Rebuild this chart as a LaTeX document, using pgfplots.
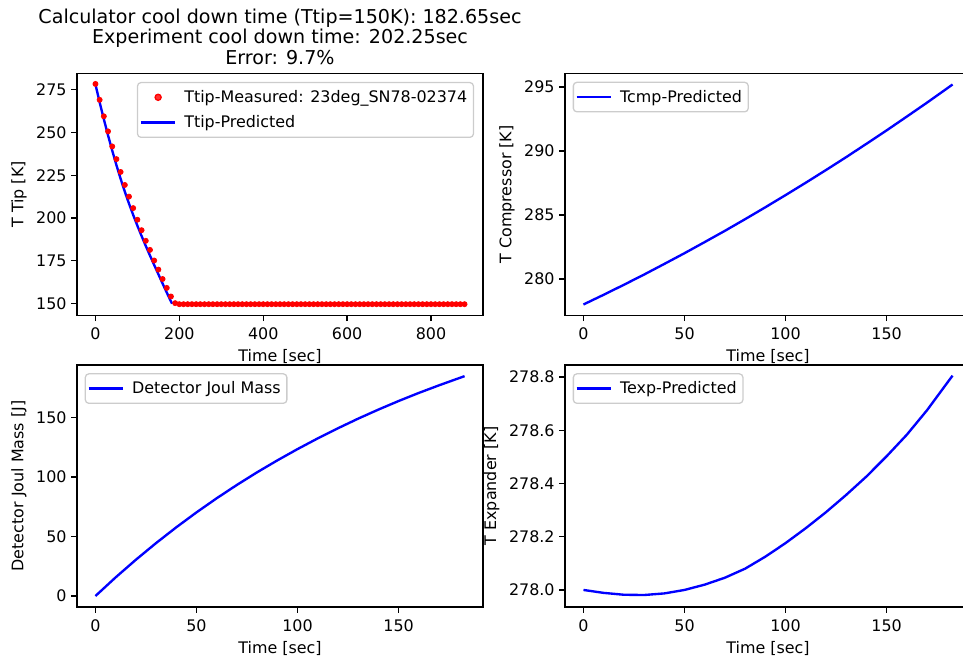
\documentclass[border=0pt]{standalone}
\usepackage{fontspec}
\setmainfont{DejaVu Sans}
\usepackage{pgfplots}
\pgfplotsset{compat=1.18}
\pgfplotsset{
  myaxis/.style={
    scale only axis, width=292.32bp, height=174.24bp,
    axis line style={line width=0.92bp},
    every tick/.style={black, line width=0.92bp},
    major tick length=4bp, tick align=outside, tick pos=left,
    tick label style={font=\fontsize{11.5}{13.8}\selectfont},
    label style={font=\fontsize{11.5}{13.8}\selectfont},
    xticklabel shift=1.5bp,
    /pgf/number format/assume math mode=true,
    /pgf/number format/1000 sep={},
    legend style={draw=black!20, line width=0.92bp, rounded corners=2.5bp, fill=white, fill opacity=0.8, text opacity=1,
      font=\fontsize{11.5}{13.8}\selectfont, inner xsep=1.5bp, inner ysep=1.5bp, nodes={inner xsep=3bp, inner ysep=4bp},
      /tikz/every odd column/.append style={column sep=2.5bp}},
    legend cell align=left,
    xlabel={Time [sec]},
  },
  lineleg/.style={legend image code/.code={\draw[##1] (0bp,0bp) -- (25bp,0bp);}},
  ulleg/.style={legend style={at={(0.019,0.966)}, anchor=north west}},
}
\begin{document}
\begin{tikzpicture}[x=1bp,y=1bp]
\path[use as bounding box] (0,0) rectangle (693.36,476.64);

% Top-left: T tip
\begin{axis}[myaxis, at={(55.44bp,249.48bp)}, anchor=south west,
  xmin=-44, xmax=924, ymin=143.1, ymax=284.4,
  xtick={0,200,400,600,800}, ytick={150,175,200,225,250,275},
  ylabel={T Tip [K]},
  title={Calculator cool down time (Ttip=150K): 182.65sec\\Experiment cool down time: 202.25sec\\Error: 9.7\%},
  title style={align=center, font=\fontsize{13.8}{14.6}\selectfont, at={(0.5,1)}, anchor=south, yshift=-1.6bp, inner sep=2bp},
  legend style={at={(0.978,0.965)}, anchor=north east}]
\addplot[only marks, mark=*, mark size=1.85bp, mark options={fill=red, draw=red, line width=0.5bp},
  legend image code/.code={\fill[red] (12.5bp,0bp) circle (2.2bp);}]
  coordinates {
  (0,278.3) (10,269.0) (20,259.4) (30,250.6) (40,241.8) (50,234.4) (60,226.9) (70,219.3) (80,212.5) (90,205.8)
  (100,199.0) (110,192.9) (120,186.7) (130,181.4) (140,175.2) (150,169.9) (160,164.4) (170,159.2) (180,154.2) (190,150.3)
  (200,149.7) (210,149.7) (220,149.7) (230,149.7) (240,149.7) (250,149.7) (260,149.7) (270,149.7) (280,149.7) (290,149.7)
  (300,149.7) (310,149.7) (320,149.7) (330,149.7) (340,149.7) (350,149.7) (360,149.7) (370,149.7) (380,149.7) (390,149.7)
  (400,149.7) (410,149.7) (420,149.7) (430,149.7) (440,149.7) (450,149.7) (460,149.7) (470,149.7) (480,149.7) (490,149.7)
  (500,149.7) (510,149.7) (520,149.7) (530,149.7) (540,149.7) (550,149.7) (560,149.7) (570,149.7) (580,149.7) (590,149.7)
  (600,149.7) (610,149.7) (620,149.7) (630,149.7) (640,149.7) (650,149.7) (660,149.7) (670,149.7) (680,149.7) (690,149.7)
  (700,149.7) (710,149.7) (720,149.7) (730,149.7) (740,149.7) (750,149.7) (760,149.7) (770,149.7) (780,149.7) (790,149.7)
  (800,149.7) (810,149.7) (820,149.7) (830,149.7) (840,149.7) (850,149.7) (860,149.7) (870,149.7) (880,149.7)
  };
\addlegendentry{Ttip-Measured: 23deg\_SN78-02374}
\addplot[blue, line width=1.7bp, lineleg]
  coordinates {
  (0,278.0) (10,267.6) (20,257.7) (30,248.3) (40,239.4) (50,230.9) (60,222.9) (70,215.4) (80,208.4) (90,201.8)
  (100,195.5) (110,189.5) (120,183.7) (130,178.1) (140,172.6) (150,167.2) (160,161.8) (170,156.5) (180,151.3) (182.65,150.0)
  };
\addlegendentry{Ttip-Predicted}
\end{axis}

% Top-right: T compressor
\begin{axis}[myaxis, ulleg, at={(406.8bp,249.48bp)}, anchor=south west,
  xmin=-9.13, xmax=191.78, ymin=277.14, ymax=296.06,
  xtick={0,50,100,150}, ytick={280,285,290,295},
  ylabel={T Compressor [K]}]
\addplot[blue, line width=1.7bp, lineleg]
  coordinates {
  (0,278.00) (10,278.76) (20,279.54) (30,280.34) (40,281.17) (50,282.01) (60,282.88) (70,283.76) (80,284.67) (90,285.60)
  (100,286.55) (110,287.52) (120,288.51) (130,289.52) (140,290.56) (150,291.61) (160,292.69) (170,293.78) (180,294.90) (182.65,295.20)
  };
\addlegendentry{Tcmp-Predicted}
\end{axis}

% Bottom-left: detector joul mass
\begin{axis}[myaxis, ulleg, at={(55.44bp,39.6bp)}, anchor=south west,
  xmin=-9.13, xmax=191.78, ymin=-9.25, ymax=194.2,
  xtick={0,50,100,150}, ytick={0,50,100,150},
  ylabel={Detector Joul Mass [J]}]
\addplot[blue, line width=1.7bp, lineleg]
  coordinates {
  (0,0) (10,15.66) (20,30.47) (30,44.49) (40,57.74) (50,70.30) (60,82.16) (70,93.38) (80,104.0) (90,114.0)
  (100,123.5) (110,132.5) (120,141.0) (130,149.1) (140,156.7) (150,163.9) (160,170.7) (170,177.1) (180,183.2) (182.65,184.8)
  };
\addlegendentry{Detector Joul Mass}
\end{axis}

% Bottom-right: T expander
\begin{axis}[myaxis, ulleg, at={(406.8bp,39.6bp)}, anchor=south west,
  xmin=-9.13, xmax=191.78, ymin=277.936, ymax=278.845,
  xtick={0,50,100,150}, ytick={278.0,278.2,278.4,278.6,278.8},
  yticklabel style={/pgf/number format/.cd, fixed, fixed zerofill, precision=1},
  ylabel={T Expander [K]}]
\addplot[blue, line width=1.7bp, lineleg]
  coordinates {
  (0,278.000) (10,277.989) (20,277.982) (30,277.981) (40,277.987) (50,278.000) (60,278.020) (70,278.046) (80,278.080) (90,278.125)
  (100,278.176) (110,278.232) (120,278.292) (130,278.357) (140,278.426) (150,278.502) (160,278.583) (170,278.675) (180,278.778) (182.65,278.805)
  };
\addlegendentry{Texp-Predicted}
\end{axis}
\end{tikzpicture}
\end{document}
